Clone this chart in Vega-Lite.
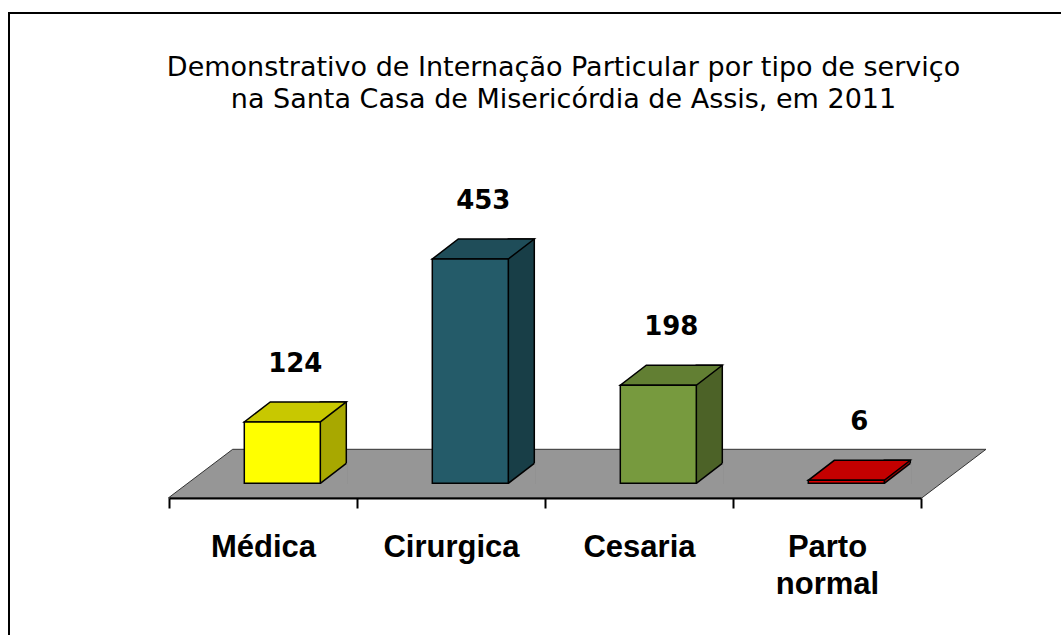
{
  "$schema": "https://vega.github.io/schema/vega-lite/v6.json",
  "width": 1053,
  "height": 623,
  "autosize": {"type": "none"},
  "padding": {"left": 9, "top": 13, "right": 0, "bottom": 0},
  "background": "white",
  "config": {"view": {"stroke": "black", "strokeWidth": 2}},
  "title": {
    "text": ["Demonstrativo de Internação Particular por tipo de serviço", "na Santa Casa de Misericórdia de Assis, em 2011"],
    "font": "DejaVu Sans",
    "fontSize": 27,
    "fontWeight": "normal",
    "color": "black",
    "anchor": "middle",
    "frame": "group",
    "baseline": "top",
    "offset": -101,
    "dx": 28,
    "lineHeight": 32
  },
  "data": {
    "values": [
      {"tipo": "Médica", "valor": 124},
      {"tipo": "Cirurgica", "valor": 453},
      {"tipo": "Cesaria", "valor": 198},
      {"tipo": "Parto normal", "valor": 6}
    ]
  },
  "encoding": {
    "x": {
      "field": "tipo",
      "type": "nominal",
      "scale": {"type": "band", "domain": ["Médica", "Cirurgica", "Cesaria", "Parto normal"], "range": [160, 912], "paddingInner": 0, "paddingOuter": 0},
      "axis": {
        "title": null,
        "orient": "bottom",
        "offset": -138,
        "grid": false,
        "domainColor": "black",
        "domainWidth": 2,
        "tickColor": "black",
        "tickWidth": 2,
        "tickSize": 10,
        "tickBand": "extent",
        "labelFont": "Liberation Sans",
        "labelFontWeight": "bold",
        "labelFontSize": 31,
        "labelColor": "black",
        "labelPadding": 24,
        "labelAngle": 0,
        "labelOverlap": false,
        "labelLimit": 300,
        "labelLineHeight": 37,
        "labelExpr": "datum.label == 'Parto normal' ? ['Parto', 'normal'] : datum.label",
        "zindex": 1
      }
    }
  },
  "layer": [
    {
      "transform": [{"filter": "datum.tipo == 'Cirurgica'"}],
      "mark": {"type": "point", "shape": "M -282.7 14.7 L 470.7 14.7 L 535 -34 L -218.3 -34 Z", "size": 4, "filled": true, "fill": "#969696", "stroke": "#333333", "strokeWidth": 1, "opacity": 1},
      "encoding": {
        "y": {"datum": 0, "type": "quantitative", "scale": {"domain": [0, 453], "range": [470.3, 246], "zero": false, "nice": false}, "axis": null}
      }
    },
    {
      "mark": {"type": "bar", "width": 26, "xOffset": 70.3, "yOffset": -20, "stroke": "black", "strokeWidth": 1.5},
      "encoding": {
        "y": {"field": "valor", "type": "quantitative", "scale": {"domain": [0, 453], "range": [470.3, 246], "zero": false, "nice": false}, "axis": null},
        "y2": {"datum": 0},
        "color": {"field": "tipo", "type": "nominal", "scale": {"domain": ["Médica", "Cirurgica", "Cesaria", "Parto normal"], "range": ["#A8A800", "#183E47", "#4C6227", "#A00000"]}, "legend": null}
      }
    },
    {
      "mark": {"type": "point", "shape": "M 57.3 0 L 84.5 -20.9 L 84.5 1.8 L 57.3 1.8 Z", "size": 4, "filled": true, "fill": "#969696", "strokeWidth": 0, "opacity": 1},
      "encoding": {
        "y": {"datum": 0, "type": "quantitative", "scale": {"domain": [0, 453], "range": [470.3, 246], "zero": false, "nice": false}, "axis": null}
      }
    },
    {
      "mark": {"type": "point", "shape": "M 57.3 0 L 83.3 -20", "size": 4, "filled": false, "stroke": "black", "strokeWidth": 1.5, "opacity": 1},
      "encoding": {
        "y": {"datum": 0, "type": "quantitative", "scale": {"domain": [0, 453], "range": [470.3, 246], "zero": false, "nice": false}, "axis": null}
      }
    },
    {
      "mark": {"type": "point", "shape": "M -18.7 0 L 57.3 0 L 83.3 -20 L 7.3 -20 Z", "size": 4, "filled": true, "stroke": "black", "strokeWidth": 1.5, "opacity": 1},
      "encoding": {
        "y": {"field": "valor", "type": "quantitative", "scale": {"domain": [0, 453], "range": [470.3, 246], "zero": false, "nice": false}, "axis": null},
        "color": {"field": "tipo", "type": "nominal", "scale": {"domain": ["Médica", "Cirurgica", "Cesaria", "Parto normal"], "range": ["#C8C800", "#1F4D59", "#627F33", "#C40000"]}, "legend": null}
      }
    },
    {
      "mark": {"type": "bar", "width": 76, "xOffset": 19.3, "stroke": "black", "strokeWidth": 1.5},
      "encoding": {
        "y": {"field": "valor", "type": "quantitative", "scale": {"domain": [0, 453], "range": [470.3, 246], "zero": false, "nice": false}, "axis": null},
        "y2": {"datum": 0},
        "color": {"field": "tipo", "type": "nominal", "scale": {"domain": ["Médica", "Cirurgica", "Cesaria", "Parto normal"], "range": ["#FFFF00", "#245B69", "#779A3E", "#E00000"]}, "legend": null}
      }
    },
    {
      "mark": {"type": "text", "xOffset": 32.3, "yOffset": -50, "align": "center", "baseline": "alphabetic", "font": "DejaVu Sans", "fontWeight": "bold", "fontSize": 26, "color": "black"},
      "encoding": {
        "y": {"field": "valor", "type": "quantitative", "scale": {"domain": [0, 453], "range": [470.3, 246], "zero": false, "nice": false}, "axis": null},
        "text": {"field": "valor", "type": "quantitative"}
      }
    }
  ],
  "resolve": {"scale": {"color": "independent"}}
}
